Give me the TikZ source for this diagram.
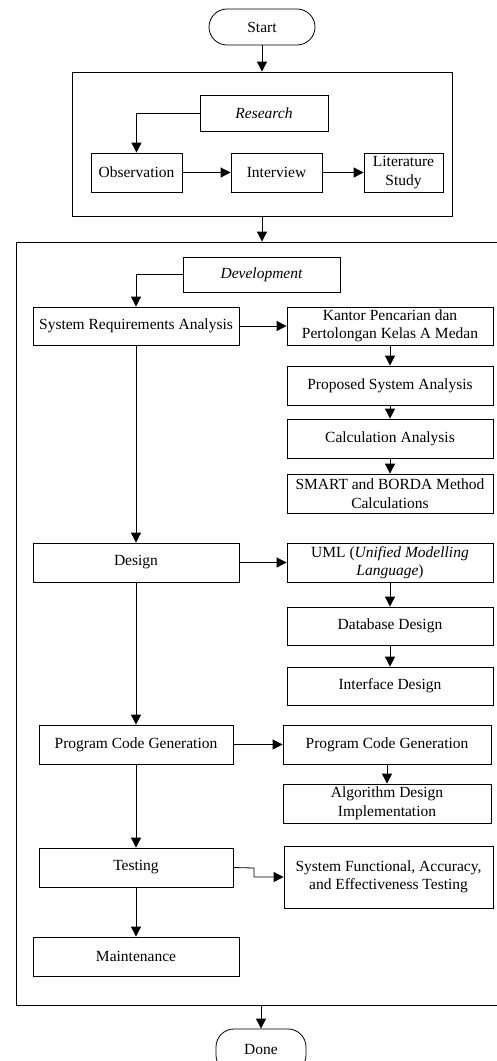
\documentclass[tikz,border=0pt]{standalone}
\usepackage{fontspec}
\setmainfont{Liberation Serif}
\usetikzlibrary{arrows.meta}
\begin{document}
\begin{tikzpicture}[x=1pt,y=-1pt,
  every node/.style={font=\fontsize{15.5}{18.5}\selectfont},
  box/.style={draw=black,line width=0.8pt,rectangle,inner sep=0pt,align=center,minimum height=39pt},
  term/.style={draw=black,line width=0.8pt,rectangle,rounded corners=18pt,inner sep=0pt,minimum height=36pt},
  frm/.style={draw=black,line width=0.8pt,rectangle,inner sep=0pt},
  arr/.style={line width=0.8pt,-{Triangle[length=10pt,width=10pt]}}]
\useasboundingbox (0,0) rectangle (497,1061);
\clip (0,0) rectangle (497,1061);
% terminals
\node[term,minimum width=106pt] (start) at (262,27) {Start};
\node[term,minimum width=90pt,minimum height=44pt] (done) at (261,1051) {\raisebox{4pt}{Done}};
% research frame
\node[frm,minimum width=380pt,minimum height=144pt] (rframe) at (262,144) {};
\node[box,minimum width=128pt,minimum height=36pt] (research) at (264,113) {\itshape Research};
\node[box,minimum width=91pt] (obs) at (136.5,172.5) {Observation};
\node[box,minimum width=91pt] (inter) at (276.5,172.5) {Interview};
\node[box,minimum width=79pt] (lit) at (403.5,172.5) {Literature\\Study};
% development frame
\node[frm,minimum width=490pt,minimum height=763pt] (frame) at (261,623.5) {};
\node[box,minimum width=157pt,minimum height=35pt] (dev) at (261.5,274.5) {\itshape Development};
\node[box,minimum width=206pt,minimum height=38pt] (sra) at (136,326) {System Requirements Analysis};
\node[box,minimum width=206pt,minimum height=38pt] (kantor) at (390,326) {Kantor Pencarian dan\\Pertolongan Kelas A Medan};
\node[box,minimum width=206pt] (prop) at (390,385.5) {Proposed System Analysis};
\node[box,minimum width=206pt] (calc) at (390,438.5) {Calculation Analysis};
\node[box,minimum width=206pt] (smart) at (390,493.5) {SMART and BORDA Method\\Calculations};
\node[box,minimum width=206pt] (design) at (136,562.5) {Design};
\node[box,minimum width=206pt] (uml) at (390,562.5) {UML (\textit{Unified Modelling}\\\textit{Language})};
\node[box,minimum width=206pt,minimum height=38pt] (db) at (390,626) {Database Design};
\node[box,minimum width=206pt,minimum height=38pt] (ui) at (390,686) {Interface Design};
\node[box,minimum width=194pt] (pcg) at (136,744.5) {Program Code Generation};
\node[box,minimum width=208pt] (pcg2) at (387,744.5) {Program Code Generation};
\node[box,minimum width=208pt] (algo) at (387,803.5) {Algorithm Design\\Implementation};
\node[box,minimum width=194pt] (test) at (136,867.5) {Testing};
\node[box,minimum width=209pt,minimum height=62pt] (sysf) at (388.5,877) {System Functional, Accuracy,\\and Effectiveness Testing};
\node[box,minimum width=206pt] (maint) at (136,956.5) {Maintenance};
\coordinate (tbend) at (254,868);
% connectors
\draw[arr] (start) -- (rframe.north -| start);
\draw[arr] (research.west) -| (obs.north);
\draw[arr] (obs) -- (inter);
\draw[arr] (inter) -- (lit);
\draw[arr] (rframe.south) -- (rframe.south |- frame.north);
\draw[arr] (dev.west) -| (sra.north);
\draw[arr] (sra) -- (kantor);
\draw[arr] (kantor) -- (prop);
\draw[arr] (prop) -- (calc);
\draw[arr] (calc) -- (smart);
\draw[arr] (sra) -- (design);
\draw[arr] (design) -- (uml);
\draw[arr] (uml) -- (db);
\draw[arr] (db) -- (ui);
\draw[arr] (design) -- (pcg);
\draw[arr] (pcg) -- (pcg2);
\draw[arr] (pcg2) -- (algo);
\draw[arr] (pcg) -- (test);
\draw[arr] (test.east) -- (tbend) |- (sysf.west);
\draw[arr] (test) -- (maint);
\draw[arr] (frame.south -| done) -- (done);
\end{tikzpicture}
\end{document}
